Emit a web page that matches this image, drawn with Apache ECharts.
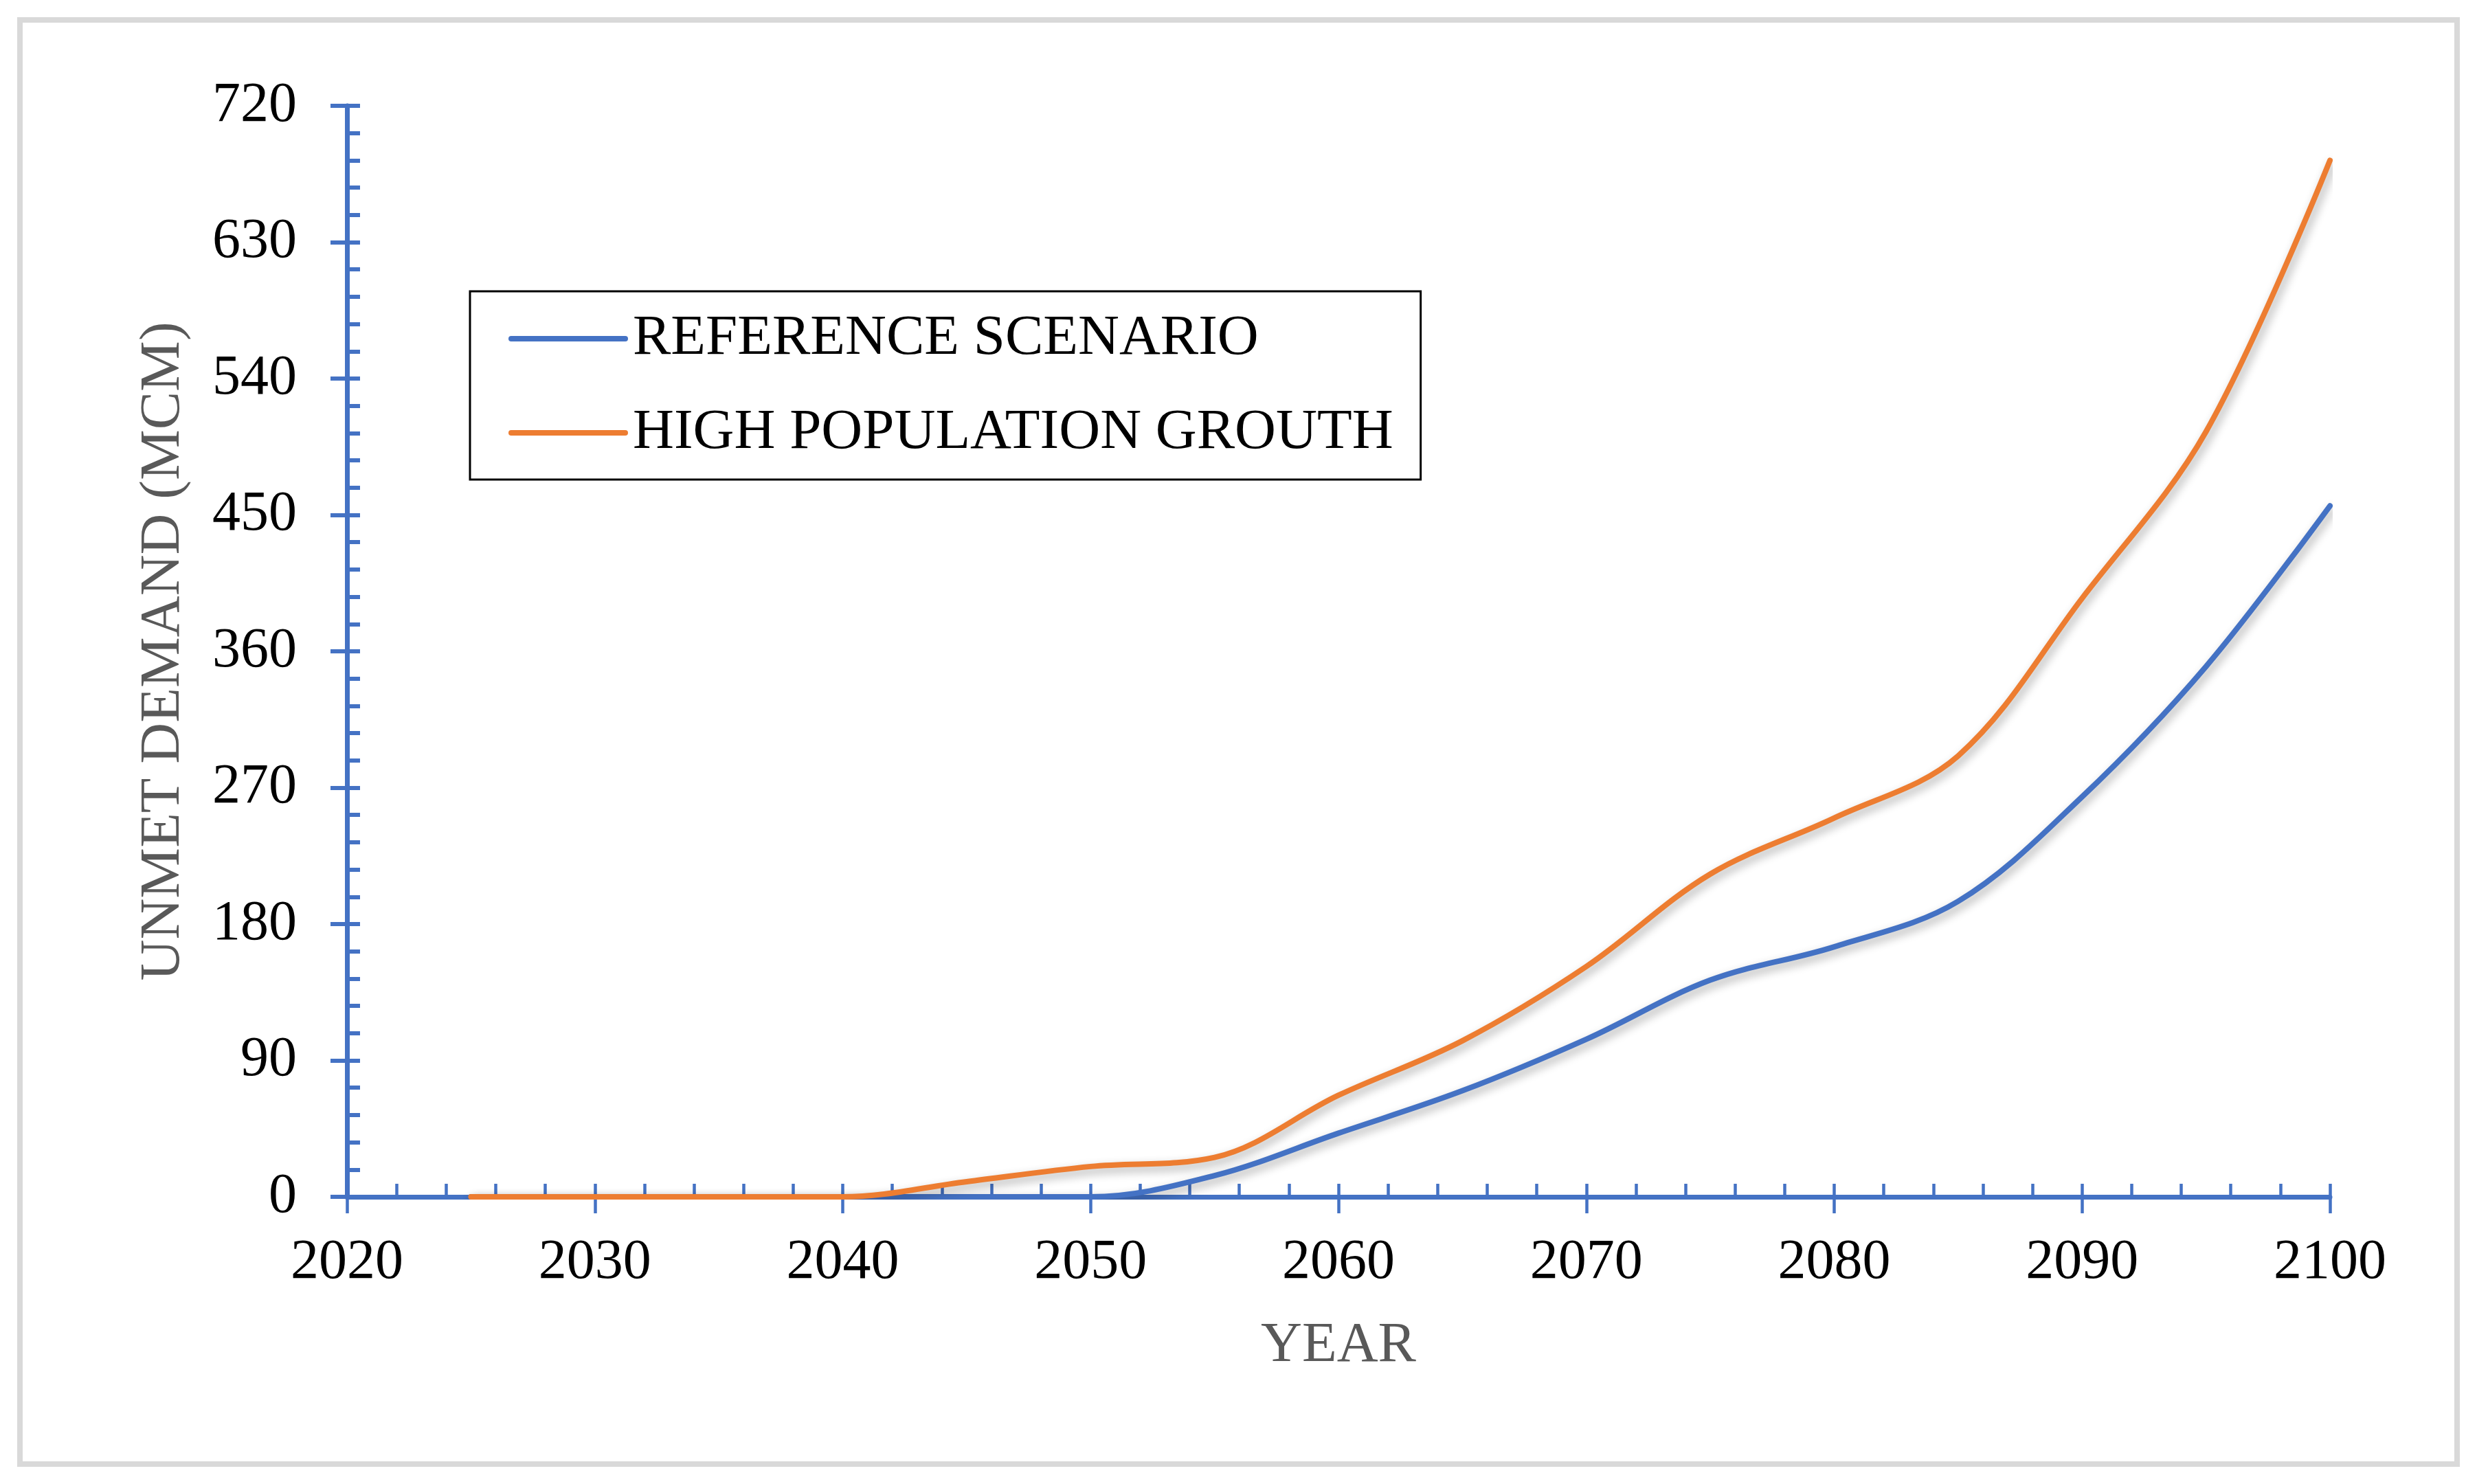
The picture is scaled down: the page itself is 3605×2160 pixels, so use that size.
<!DOCTYPE html>
<html>
<head>
<meta charset="utf-8">
<script src="https://cdn.jsdelivr.net/npm/echarts@6/dist/echarts.min.js"></script>
<style>
html,body{margin:0;padding:0;background:#fff;}
#chart{width:3605px;height:2160px;}
</style>
</head>
<body>
<div id="chart"></div>
<script>
var years = [2025, 2030, 2035, 2040, 2045, 2050, 2055, 2060, 2065, 2070, 2075, 2080, 2085, 2090, 2095, 2100];
var referenceScenario = [0, 0, 0, 0, 0, 0, 14, 42, 70, 104, 143, 165, 195, 264, 350, 456];
var highPopulation = [0, 0, 0, 0, 10, 20, 26, 67, 103, 152, 213, 250, 291, 395, 505, 684];
var seriesNames = ['REFERENCE SCENARIO', 'HIGH POPULATION GROUTH'];
var xTitle = 'YEAR';
var yTitle = 'UNMET DEMAND (MCM)';

var FONT = "'Liberation Serif', 'Times New Roman', serif";
var BLUE = '#4472C4';
var ORANGE = '#ED7D31';

function pairs(vals) {
  return years.map(function (y, i) { return [y, vals[i]]; });
}

var lineShadow = {
  shadowColor: 'rgba(0,0,0,0.33)',
  shadowBlur: 14,
  shadowOffsetX: 4,
  shadowOffsetY: 6
};

var chart = echarts.init(document.getElementById('chart'));
chart.setOption({
  backgroundColor: '#fff',
  animation: false,
  graphic: [{
    type: 'rect',
    shape: { x: 29, y: 29, width: 3547, height: 2102 },
    style: { fill: 'none', stroke: '#D9D9D9', lineWidth: 8 },
    silent: true,
    z: -10
  }],
  grid: { left: 505, right: 214, top: 154, bottom: 418, containLabel: false },
  legend: {
    orient: 'vertical',
    left: 684,
    top: 424,
    padding: [19, 40, 18, 56],
    itemGap: 37,
    itemWidth: 166,
    itemHeight: 20,
    borderColor: '#000',
    borderWidth: 3,
    backgroundColor: '#fff',
    itemStyle: { opacity: 0 },
    textStyle: { fontFamily: FONT, fontSize: 83, color: '#000', lineHeight: 100, padding: [0, 0, 0, 6] },
    lineStyle: { width: 8, cap: 'round', shadowBlur: 0, shadowColor: 'rgba(0,0,0,0)', shadowOffsetX: 0, shadowOffsetY: 0 },
    data: seriesNames
  },
  xAxis: [{
    type: 'value',
    min: 2020,
    max: 2100,
    interval: 10,
    position: 'bottom',
    splitLine: { show: false },
    axisLine: { show: true, lineStyle: { color: BLUE, width: 7 } },
    axisTick: { show: true, inside: true, length: 19, lineStyle: { color: BLUE, width: 4.5 } },
    minorTick: { show: true, splitNumber: 5, length: 19, lineStyle: { color: BLUE, width: 4.5 } },
    axisLabel: { fontFamily: FONT, fontSize: 82, color: '#000', margin: 55, formatter: function (v) { return String(v); } },
    name: xTitle,
    nameLocation: 'middle',
    nameGap: 176,
    nameTextStyle: { fontFamily: FONT, fontSize: 83, color: '#595959' }
  }, {
    type: 'value',
    min: 2020,
    max: 2100,
    interval: 10,
    position: 'bottom',
    offset: 0,
    splitLine: { show: false },
    axisLine: { show: false },
    axisTick: { show: true, inside: false, length: 24, lineStyle: { color: BLUE, width: 4.5 } },
    axisLabel: { show: false }
  }],
  yAxis: [{
    type: 'value',
    min: 0,
    max: 720,
    interval: 90,
    position: 'left',
    splitLine: { show: false },
    axisLine: { show: true, lineStyle: { color: BLUE, width: 7 } },
    axisTick: { show: true, inside: true, length: 19, lineStyle: { color: BLUE, width: 6 } },
    minorTick: { show: true, splitNumber: 5, length: 19, lineStyle: { color: BLUE, width: 6 } },
    axisLabel: { fontFamily: FONT, fontSize: 82, color: '#000', margin: 73 },
    name: yTitle,
    nameLocation: 'middle',
    nameGap: 225,
    nameRotate: 90,
    nameTextStyle: { fontFamily: FONT, fontSize: 83, color: '#595959' }
  }, {
    type: 'value',
    min: 0,
    max: 720,
    interval: 90,
    position: 'left',
    offset: 0,
    splitLine: { show: false },
    axisLine: { show: false },
    axisTick: { show: true, inside: false, length: 24, lineStyle: { color: BLUE, width: 6 } },
    axisLabel: { show: false }
  }],
  series: [{
    name: seriesNames[0],
    type: 'line',
    xAxisIndex: 0,
    yAxisIndex: 0,
    data: pairs(referenceScenario),
    smooth: 0.35,
    symbol: 'none',
    color: BLUE,
    lineStyle: Object.assign({ color: BLUE, width: 8, cap: 'round' }, lineShadow)
  }, {
    name: seriesNames[1],
    type: 'line',
    xAxisIndex: 0,
    yAxisIndex: 0,
    data: pairs(highPopulation),
    smooth: 0.35,
    symbol: 'none',
    color: ORANGE,
    lineStyle: Object.assign({ color: ORANGE, width: 8, cap: 'round' }, lineShadow)
  }]
});
</script>
</body>
</html>
